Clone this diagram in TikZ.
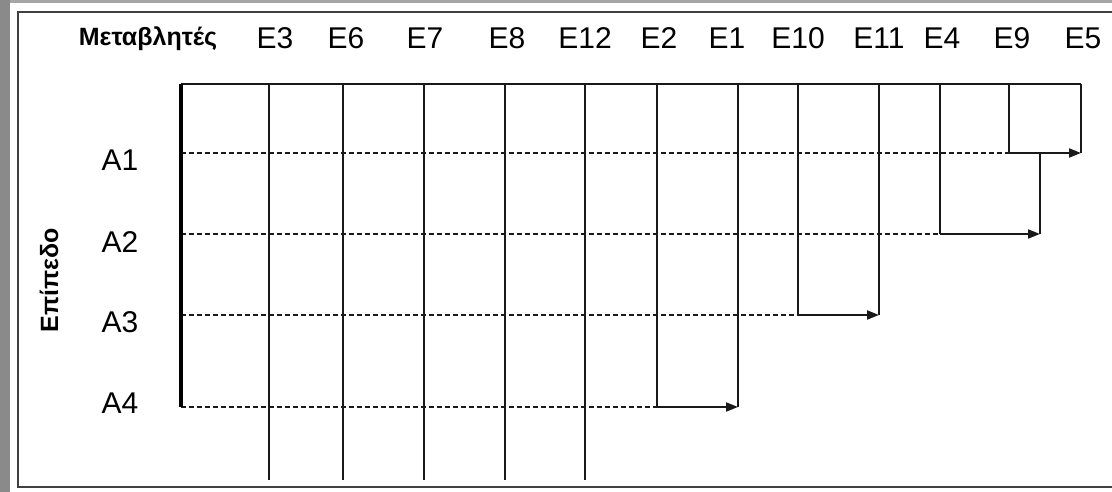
\documentclass[tikz,border=0pt]{standalone}
\usepackage{fontspec}
\setmainfont{Liberation Sans}
\usetikzlibrary{arrows.meta}
\begin{document}
\begin{tikzpicture}[x=1pt,y=-1pt,
  grid/.style={line width=2pt,draw=black!90},
  thick/.style={line width=3.6pt,draw=black},
  dashrow/.style={line width=1.8pt,draw=black!90,dash pattern=on 5pt off 3pt},
  arr/.style={line width=2pt,draw=black!90,-{Triangle[length=12pt,width=9pt]}},
  col/.style={font=\fontsize{30}{30}\selectfont,anchor=base,inner sep=0pt},
  row/.style={font=\fontsize{30}{30}\selectfont,anchor=base,inner sep=0pt},
  head/.style={font=\bfseries\fontsize{25}{25}\selectfont,anchor=base,inner sep=0pt}]
\useasboundingbox (0,0) rectangle (1112,492);
% background and frame
\fill[white] (0,0) rectangle (1112,492);
\fill[gray!85!black!80] (0,0) rectangle (10,492);
\fill[gray!70] (10,0) rectangle (1112,3);
\draw[line width=2pt,draw=black!75] (1112,12) -- (18,12) -- (18,487) -- (1112,487);
% labels
\node[head] (hv) at (148,46) {Μεταβλητές};
\node[col] (l3) at (275,49) {E3};
\node[col] (l6) at (346,49) {E6};
\node[col] (l7) at (425,49) {E7};
\node[col] (l8) at (507,49) {E8};
\node[col] (l12) at (585,49) {E12};
\node[col] (l2) at (659,49) {E2};
\node[col] (l1) at (727,49) {E1};
\node[col] (l10) at (798,49) {E10};
\node[col] (l11) at (879,49) {E11};
\node[col] (l4) at (942,49) {E4};
\node[col] (l9) at (1012,49) {E9};
\node[col] (l5) at (1083,49) {E5};
\node[row] (a1) at (120,171) {A1};
\node[row] (a2) at (120,252) {A2};
\node[row] (a3) at (120,332) {A3};
\node[row] (a4) at (120,413) {A4};
\node[font=\bfseries\fontsize{25}{25}\selectfont,rotate=90,inner sep=0pt] (lev) at (49,280) {Επίπεδο};
% coordinates
\coordinate (o) at (181,84);
\coordinate (oe) at (1081,84);
\coordinate (p1) at (181,153);
\coordinate (p2) at (181,234);
\coordinate (p3) at (181,315);
\coordinate (p4) at (181,407);
\foreach \n/\x in {3/269,6/343,7/424,8/505,12/585}{
  \coordinate (t\n) at (\x,84);
  \coordinate (b\n) at (\x,480);
}
\coordinate (t2) at (657,84);   \coordinate (b2) at (657,407);
\coordinate (t1) at (738,84);   \coordinate (b1) at (738,407);
\coordinate (t10) at (798,84);  \coordinate (b10) at (798,315);
\coordinate (t11) at (879,84);  \coordinate (b11) at (879,315);
\coordinate (t4) at (940,84);   \coordinate (b4) at (940,234);
\coordinate (t9) at (1009,84);  \coordinate (b9) at (1009,153);
\coordinate (t5) at (1081,84);  \coordinate (b5) at (1081,153);
\coordinate (m9) at (1040,153); \coordinate (n9) at (1040,234);
% grid
\draw[grid] (o) -- (oe);
\foreach \n in {3,6,7,8,12,2,1,10,11,4,9,5}{
  \draw[grid] (t\n) -- (b\n);
}
\draw[grid] (m9) -- (n9);
% dashed rows
\draw[dashrow] (p1) -- (b9);
\draw[dashrow] (p2) -- (b4);
\draw[dashrow] (p3) -- (b10);
\draw[dashrow] (p4) -- (b2);
% arrows
\draw[arr] (b9) -- (b5);
\draw[arr] (b4) -- (n9);
\draw[arr] (b10) -- (b11);
\draw[arr] (b2) -- (b1);
% left thick axis
\draw[thick] (o) -- (p4);
\end{tikzpicture}
\end{document}
